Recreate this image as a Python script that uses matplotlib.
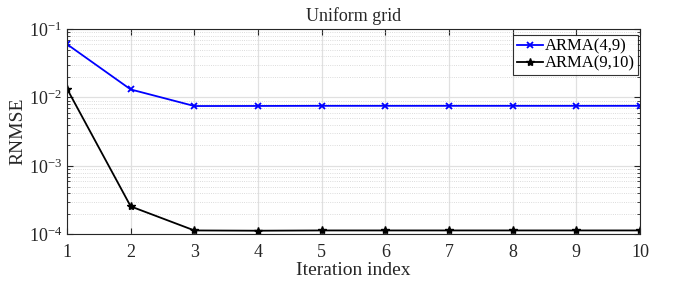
import matplotlib

matplotlib.use("Agg")
import matplotlib.pyplot as plt
from matplotlib.ticker import LogLocator, NullFormatter

iterations = [1, 2, 3, 4, 5, 6, 7, 8, 9, 10]
arma_4_9 = [0.060, 0.0131, 0.00750, 0.00752, 0.00755, 0.00755, 0.00755, 0.00755, 0.00755, 0.00755]
arma_9_10 = [0.0134, 2.56e-4, 1.14e-4, 1.13e-4, 1.14e-4, 1.14e-4, 1.14e-4, 1.14e-4, 1.14e-4, 1.14e-4]

plt.rcParams["font.family"] = ["Liberation Serif", "DejaVu Serif"]
plt.rcParams["mathtext.fontset"] = "stix"

fig = plt.figure(figsize=(6.73, 2.82), dpi=100)
ax = fig.add_axes([0.0996, 0.169, 0.8514, 0.728])

ax.plot(iterations, arma_4_9, color="#0000FF", linewidth=1.3, marker="x",
        markersize=5, markeredgewidth=1.3, label="ARMA(4,9)")
ax.plot(iterations, arma_9_10, color="black", linewidth=1.3, marker="*",
        markersize=6, label="ARMA(9,10)")

ax.set_yscale("log")
ax.set_ylim(1e-4, 1e-1)
ax.set_xlim(1, 10)
ax.set_xticks(iterations)
ax.yaxis.set_major_locator(LogLocator(base=10, numticks=10))
ax.yaxis.set_minor_locator(LogLocator(base=10, subs=range(2, 10), numticks=20))
ax.yaxis.set_minor_formatter(NullFormatter())

ax.grid(which="major", color="#E0E0E0", linewidth=0.9)
ax.grid(which="minor", axis="y", color="#D0D0D0", linewidth=0.6, linestyle=":")
ax.set_axisbelow(True)
ax.tick_params(which="both", direction="in", top=True, right=True, labelsize=13, colors="#262626")
ax.tick_params(which="major", length=4)
ax.tick_params(which="minor", length=2)
ax.tick_params(axis="x", pad=7)
for spine in ax.spines.values():
    spine.set_color("#262626")
    spine.set_linewidth(0.8)

ax.set_title("Uniform grid", fontsize=13, color="#262626", pad=6)
ax.set_xlabel("Iteration index", fontsize=14, color="#262626", labelpad=1)
ax.set_ylabel("RNMSE", fontsize=14, color="#262626", labelpad=2)

leg = ax.legend(loc="upper right", bbox_to_anchor=(0.997, 0.97), fontsize=12,
                frameon=True, fancybox=False, handlelength=1.6, handletextpad=0.1,
                borderpad=0.2, labelspacing=0.05, borderaxespad=0.0)
leg.get_frame().set_edgecolor("black")
leg.get_frame().set_linewidth(0.8)

fig.savefig("out.png", dpi=100, facecolor="white")
